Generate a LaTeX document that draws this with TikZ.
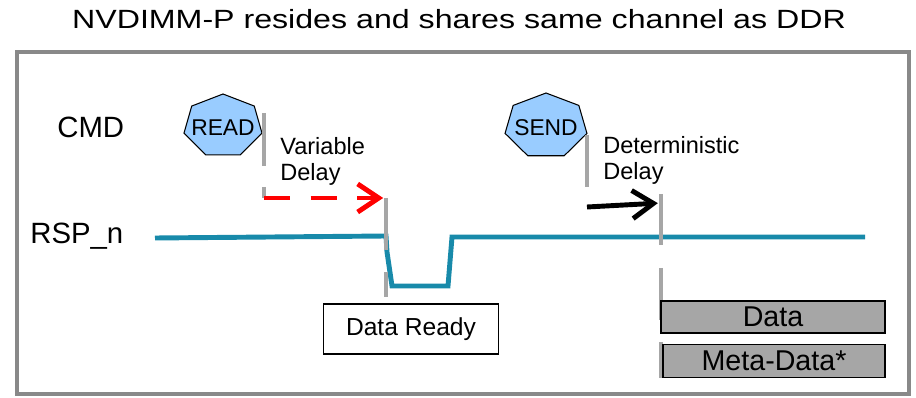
\documentclass[tikz,border=0pt]{standalone}
\usepackage{fontspec}
\setmainfont{Liberation Sans}
\newfontfamily\titlefont{Liberation Sans}[FakeStretch=1.22]
\usepackage{xcolor}
\usetikzlibrary{arrows.meta}

\definecolor{rspteal}{RGB}{24,138,170}
\definecolor{tickgray}{RGB}{166,166,166}
\definecolor{cmdblue}{RGB}{153,204,255}
\definecolor{framegray}{RGB}{137,137,137}

\begin{document}
\begin{tikzpicture}[x=0.02cm, y=-0.02cm,
    tick/.style={tickgray, line width=2.8pt},
    cmdshape/.style={fill=cmdblue, draw=black, line width=0.6pt},
    sig/.style={inner sep=0pt, anchor=base west, font=\fontsize{16.7}{18}\selectfont},
    delaytxt/.style={inner sep=0pt, anchor=north west, align=left, font=\fontsize{13.4}{14.7}\selectfont},
    databox/.style={draw=black, fill=tickgray, line width=0.9pt, font=\fontsize{16.3}{18}\selectfont}]
    \useasboundingbox (0,0) rectangle (916,398);

    % 1. Tiêu đề và khung xám
    \node[font=\titlefont\fontsize{15}{16}\selectfont] (title) at (459,19) {NVDIMM-P resides and shares same channel as DDR};
    \draw[framegray, line width=2.3pt] (17,52) rectangle (909,394);

    % 2. Tên các tín hiệu
    \node[sig] (cmd) at (57,138) {CMD};
    \node[sig] (rsp) at (30,244) {RSP\_n};

    % 3. Đường RSP_n màu xanh (có xung xuống khi dữ liệu sẵn sàng)
    \draw[rspteal, line width=2.8pt] (155,238) -- (386,236) -- (387,252) -- (392,286)
                                     -- (448,286) -- (452,237) -- (865,237);

    % 4. Hai lệnh READ và SEND (hình bảy cạnh)
    \draw[cmdshape] plot[samples at={0,...,6}] ({223+40*cos(90+\x*360/7)}, {126-32*sin(90+\x*360/7)}) -- cycle;
    \node[font=\fontsize{13}{14}\selectfont] (read) at (223,128) {READ};
    \draw[cmdshape] plot[samples at={0,...,6}] ({546+42*cos(90+\x*360/7)}, {126-33*sin(90+\x*360/7)}) -- cycle;
    \node[font=\fontsize{13}{14}\selectfont] (send) at (546,128) {SEND};

    % 5. Các vạch mốc màu xám
    \coordinate (readend) at (264,198);
    \coordinate (readyend) at (386,198);
    \coordinate (sendend) at (587,207);
    \coordinate (dataend) at (661,203);
    \draw[tick] (264,113) -- (264,166);
    \draw[tick] (264,187) -- (readend);
    \draw[tick] (readyend) -- (386,250);
    \draw[tick] (386,272) -- (386,297);
    \draw[tick] (587,135) -- (587,187);
    \draw[tick] (661,194) -- (661,245);
    \draw[tick] (661,268) -- (661,320);
    \draw[tick] (661,342) -- (661,378);

    % 6. Độ trễ thay đổi (đỏ, nét đứt) và độ trễ xác định (đen)
    \node[delaytxt] (vardelay) at (280,137) {Variable\\Delay};
    \node[delaytxt] (detdelay) at (603,136) {Deterministic\\Delay};
    \draw[red, line width=2.8pt, dash pattern=on 14.7pt off 11.9pt,
          -{Straight Barb[length=12pt, width=16pt]}, shorten >=1.6pt] (readend) -- (readyend);
    \draw[black, line width=2.8pt,
          -{Straight Barb[length=12pt, width=16pt]}, shorten >=1.8pt] (sendend) -- (dataend);

    % 7. Các hộp dữ liệu
    \node[draw=black, fill=white, line width=0.9pt, minimum width=175*0.02cm, minimum height=50*0.02cm,
          font=\fontsize{14}{16}\selectfont] (ready) at (411,329) {Data Ready};
    \node[databox, minimum width=224*0.02cm, minimum height=32*0.02cm] (data) at (773,317) {Data};
    \node[databox, minimum width=222*0.02cm, minimum height=33*0.02cm] (meta) at (774,361) {Meta-Data*};

\end{tikzpicture}
\end{document}
